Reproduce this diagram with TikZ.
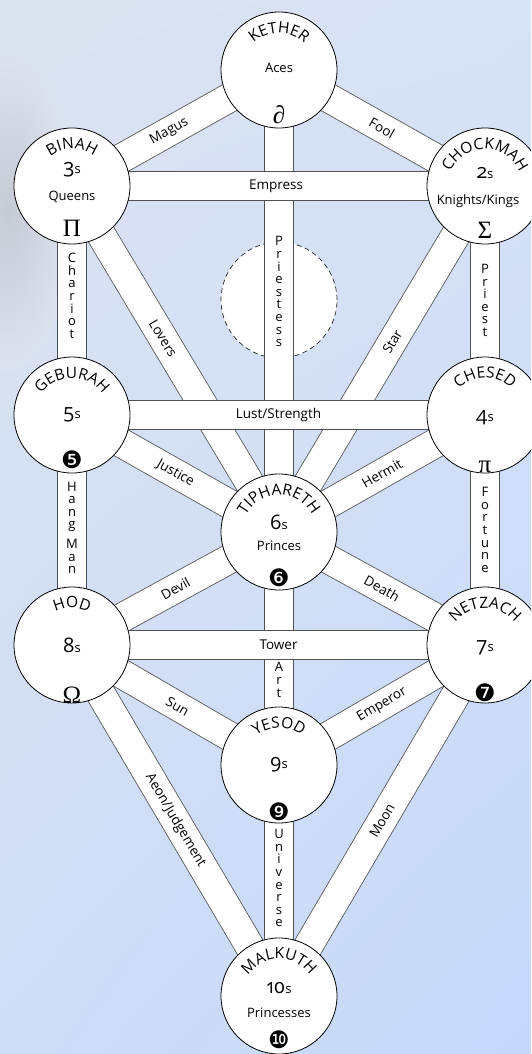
\documentclass[tikz,border=0pt]{standalone}
\usepackage{fontspec}
\setmainfont{Open Sans}[Numbers=OldStyle]
\newfontfamily\symfont{Liberation Serif}
\newfontfamily\dingfont{DejaVu Sans}
\usetikzlibrary{decorations.text,shadings}

\definecolor{skyul}{RGB}{220,227,240}
\definecolor{skyur}{RGB}{214,226,246}
\definecolor{skyll}{RGB}{206,221,246}
\definecolor{skylr}{RGB}{198,216,250}
\definecolor{bandline}{RGB}{80,80,80}

\pgfdeclarelayer{background}
\pgfdeclarelayer{bands}
\pgfsetlayers{background,bands,main}

\newcommand{\namefont}{\fontsize{15.5}{15.5}\selectfont}
\newcommand{\cardno}[1]{#1{\fontsize{13}{13}\selectfont s}}
% name of a sephirah, bent round the top of its circle
\newcommand{\sephname}[2]{%
  \path[decorate, decoration={text along path, text align=center,
        text={|\namefont|#2}}]
    (#1.center) ++(168:37) arc[start angle=168, end angle=12, radius=37];}

\begin{document}
\begin{tikzpicture}[x=1pt, y=1pt,
  seph/.style={circle, draw=black, line width=0.8pt, fill=white,
               minimum size=116pt, inner sep=0pt},
  daath/.style={circle, draw=black!85, line width=0.7pt, fill=white,
                dash pattern=on 5pt off 3.5pt, minimum size=116pt},
  band/.style={draw=bandline, line width=0.8pt, double=white,
               double distance=28.4pt},
  plabel/.style={font=\fontsize{13.5}{13.5}\selectfont, inner sep=0pt},
  vlabel/.style={align=center, font=\fontsize{13}{12.6}\selectfont, inner sep=0pt},
  card/.style={font=\fontsize{20}{20}\selectfont, inner sep=0pt},
  court/.style={font=\fontsize{13}{13}\selectfont, inner sep=0pt},
  glyph/.style={font=\symfont\fontsize{25}{25}\selectfont, inner sep=0pt},
  ding/.style={font=\dingfont\fontsize{24}{24}\selectfont, inner sep=0pt}
]
\useasboundingbox (0,0) rectangle (531,-1054);
\clip (0,0) rectangle (531,-1054);

\begin{pgfonlayer}{background}
  \shade[upper left=skyul, upper right=skyur, lower left=skyll, lower right=skylr]
    (0,0) rectangle (531,-1054);
  \shade[inner color=gray!25!skyul, outer color=skyul]
    (8,-210) ellipse [x radius=65, y radius=160];
\end{pgfonlayer}

% the ten sephiroth
\node[seph] (kether)    at (279,-70)  {};
\node[seph] (chokmah)   at (485,-186) {};
\node[seph] (binah)     at (72,-186)  {};
\node[seph] (chesed)    at (485,-415) {};
\node[seph] (geburah)   at (72,-415)  {};
\node[seph] (tiphareth) at (279,-532) {};
\node[seph] (netzach)   at (485,-645) {};
\node[seph] (hod)       at (72,-645)  {};
\node[seph] (yesod)     at (279,-765) {};
\node[seph] (malkuth)   at (279,-996) {};

\begin{pgfonlayer}{bands}
\node[daath] (daath) at (279,-300) {};
% diagonal paths
\draw[band] (kether.center) -- node[plabel, sloped, pos=.5] {Fool} (chokmah.center);
\draw[band] (kether.center) -- node[plabel, sloped, pos=.53] {Magus} (binah.center);
\draw[band] (chokmah.center) -- node[plabel, sloped, pos=.45] {Star} (tiphareth.center);
\draw[band] (binah.center) -- node[plabel, sloped, pos=.44] {Lovers} (tiphareth.center);
\draw[band] (chesed.center) -- node[plabel, sloped, pos=.5] {Hermit} (tiphareth.center);
\draw[band] (geburah.center) -- node[plabel, sloped, pos=.5] {Justice} (tiphareth.center);
\draw[band] (tiphareth.center) -- node[plabel, sloped, pos=.5] {Death} (netzach.center);
\draw[band] (tiphareth.center) -- node[plabel, sloped, pos=.5] {Devil} (hod.center);
\draw[band] (hod.center) -- node[plabel, sloped, pos=.51] {Sun} (yesod.center);
\draw[band] (netzach.center) -- node[plabel, sloped, pos=.5] {Emperor} (yesod.center);
\draw[band] (netzach.center) -- node[plabel, sloped, pos=.5] {Moon} (malkuth.center);
\draw[band] (hod.center) -- node[plabel, sloped, pos=.5] {Aeon/Judgement} (malkuth.center);
% vertical paths
\draw[band] (kether.center) -- node[vlabel, pos=.48] {P\\r\\i\\e\\s\\t\\e\\s\\s} (tiphareth.center);
\draw[band] (chokmah.center) -- node[vlabel, pos=.5] {P\\r\\i\\e\\s\\t} (chesed.center);
\draw[band] (binah.center) -- node[vlabel, pos=.48] {C\\h\\a\\r\\i\\o\\t} (geburah.center);
\draw[band] (chesed.center) -- node[vlabel, pos=.5] {F\\o\\r\\t\\u\\n\\e} (netzach.center);
\draw[band] (geburah.center) -- node[vlabel, pos=.49] {H\\a\\n\\g\\[7pt]M\\a\\n} (hod.center);
\draw[band] (tiphareth.center) -- node[vlabel, pos=.635] {A\\r\\t} (yesod.center);
\draw[band] (yesod.center) -- node[vlabel, pos=.49] {U\\n\\i\\v\\e\\r\\s\\e} (malkuth.center);
% horizontal paths
\draw[band] (binah.center) -- node[plabel, pos=.494] {Empress} (chokmah.center);
\draw[band] (geburah.center) -- node[plabel, pos=.5] {Lust/Strength} (chesed.center);
\draw[band] (hod.center) -- node[plabel, pos=.5] {Tower} (netzach.center);
\end{pgfonlayer}

% names
\sephname{kether}{KETHER}
\sephname{chokmah}{CHOCKMAH}
\sephname{binah}{BINAH}
\sephname{chesed}{CHESED}
\sephname{geburah}{GEBURAH}
\sephname{tiphareth}{TIPHARETH}
\sephname{netzach}{NETZACH}
\sephname{hod}{HOD}
\sephname{yesod}{YESOD}
\sephname{malkuth}{MALKUTH}

% contents
\node[court] (aces) at ([yshift=2pt]kether.center) {Aces};
\node[glyph] (kether-sym) at ([yshift=-45pt]kether.center) {∂};

\node[card] (two) at ([yshift=13pt]chokmah.center) {\cardno{2}};
\node[court] (knights) at ([xshift=-7pt, yshift=-15pt]chokmah.center) {Knights/Kings};
\node[glyph] (chokmah-sym) at ([yshift=-44pt]chokmah.center) {Σ};

\node[card] (three) at ([yshift=16pt]binah.center) {\cardno{3}};
\node[court] (queens) at ([yshift=-11pt]binah.center) {Queens};
\node[glyph] (binah-sym) at ([yshift=-42pt]binah.center) {Π};

\node[card] (four) at ([yshift=-3pt]chesed.center) {\cardno{4}};
\node[glyph] (chesed-sym) at ([yshift=-52pt]chesed.center) {π};

\node[card] (five) at (geburah.center) {\cardno{5}};
\node[ding] (geburah-sym) at ([yshift=-45pt]geburah.center) {❺};

\node[card] (six) at ([yshift=10pt]tiphareth.center) {\cardno{6}};
\node[court] (princes) at ([yshift=-14pt]tiphareth.center) {Princes};
\node[ding] (tiphareth-sym) at ([yshift=-46pt]tiphareth.center) {❻};

\node[card] (seven) at ([yshift=-3pt]netzach.center) {\cardno{7}};
\node[ding] (netzach-sym) at ([yshift=-48pt]netzach.center) {❼};

\node[card] (eight) at (hod.center) {\cardno{8}};
\node[glyph] (hod-sym) at ([yshift=-50pt]hod.center) {Ω};

\node[card] (nine) at (yesod.center) {\cardno{9}};
\node[ding] (yesod-sym) at ([yshift=-47pt]yesod.center) {❾};

\node[card] (ten) at ([yshift=8pt]malkuth.center) {\cardno{10}};
\node[court] (princesses) at ([yshift=-17pt]malkuth.center) {Princesses};
\node[ding] (malkuth-sym) at ([yshift=-44pt]malkuth.center) {❿};
\end{tikzpicture}
\end{document}
